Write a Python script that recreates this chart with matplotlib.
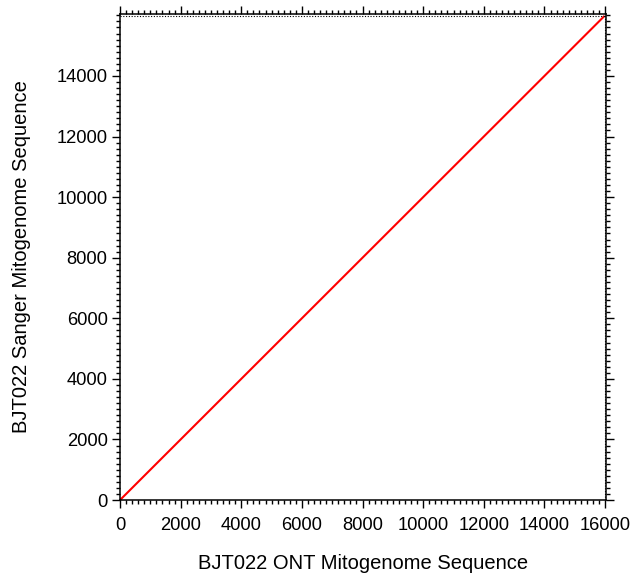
import matplotlib
matplotlib.use("Agg")
import matplotlib.pyplot as plt
from matplotlib.ticker import MultipleLocator

plt.rcParams['font.family'] = ['Liberation Sans', 'DejaVu Sans']

# Alignment segment (ONT position -> Sanger position)
ont_pos = [1, 15985]
sanger_pos = [1, 15985]
seq_len_x = 15985
seq_len_y = 15985
x_max = 16030
y_max = 16045
xticks = [0, 2000, 4000, 6000, 8000, 10000, 12000, 14000, 16000]
yticks = [0, 2000, 4000, 6000, 8000, 10000, 12000, 14000]

fig = plt.figure(figsize=(6.3, 5.78), dpi=100)
ax = fig.add_axes([0.1905, 0.1349, 0.7714, 0.8409])

ax.plot(ont_pos, sanger_pos, color='#ff0000', lw=1.5, solid_capstyle='butt')
ax.axhline(seq_len_y, color='black', lw=0.8, ls=(0, (1, 1.5)))
ax.axvline(seq_len_x, color='black', lw=0.8, ls=(0, (1, 1.5)))

ax.set_xlim(0, x_max)
ax.set_ylim(0, y_max)
ax.set_xticks(xticks)
ax.set_yticks(yticks)
ax.xaxis.set_minor_locator(MultipleLocator(200))
ax.yaxis.set_minor_locator(MultipleLocator(200))
ax.tick_params(which='both', direction='out', top=True, right=True,
               labeltop=False, labelright=False, width=1.0, color='black')
ax.tick_params(which='major', length=6, labelsize=13.2)
ax.tick_params(axis='x', which='major', pad=6)
ax.tick_params(axis='y', which='major', pad=3)
ax.tick_params(which='minor', length=3)
for s in ax.spines.values():
    s.set_linewidth(1.1)

ax.set_xlabel('BJT022 ONT Mitogenome Sequence', fontsize=14.5, va='center')
ax.set_ylabel('BJT022 Sanger Mitogenome Sequence', fontsize=14.5, va='center')
ax.xaxis.set_label_coords(0.5, -0.1316)
ax.yaxis.set_label_coords(-0.2017, 0.5)

fig.savefig('out.png', dpi=100)
